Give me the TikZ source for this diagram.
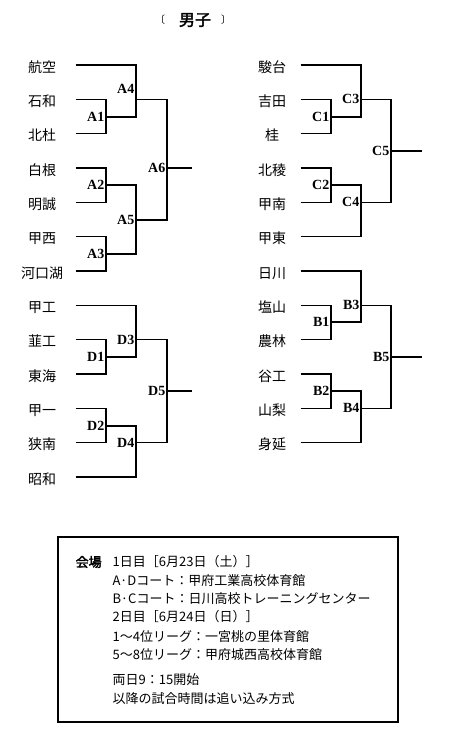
\documentclass[tikz,border=0pt]{standalone}
\usepackage{fontspec}
\setmainfont{Noto Sans CJK JP}
\newfontfamily\heavyjp{Noto Sans CJK JP}[FakeBold=2.5]
\newfontfamily\matchfont{Liberation Serif}
\usepackage{tikz}
\tikzset{team node/.style={minimum width=#1, inner sep=0pt, text height=16pt, text depth=2pt, font=\fontsize{14}{16}\selectfont},
  match label/.style={font=\matchfont\bfseries\fontsize{14}{16}\selectfont, inner sep=1pt},
  elbow/.style={to path={-| (\tikztotarget) \tikztonodes}},
  info line/.style={anchor=west, inner sep=0pt, font=\fontsize{13}{15}\selectfont},}

\begin{document}
\begin{tikzpicture}[x=1pt, y=-1pt, line width=1.3pt]
        \useasboundingbox (0,0) rectangle (450,747);
        % Title
        \node[font=\heavyjp\fontsize{16}{18}\selectfont] (title) at (195,20) {男子};
        \node[font=\fontsize{10}{12}\selectfont] (open) at (160,20) {〔};
        \node[font=\fontsize{10}{12}\selectfont] (close) at (226,20) {〕};
        % Nodes, left side
        \node[team node=66pt] (l1) at (42,65) {航空};
        \node[team node=66pt] (l2) at (42,99.3) {石和};
        \node[team node=66pt] (l3) at (42,133.7) {北杜};
        \node[team node=66pt] (l4) at (42,168) {白根};
        \node[team node=66pt] (l5) at (42,202.3) {明誠};
        \node[team node=66pt] (l6) at (42,236.7) {甲西};
        \node[team node=66pt] (l7) at (42,271) {河口湖};
        \node[team node=66pt] (l8) at (42,305.3) {甲工};
        \node[team node=66pt] (l9) at (42,339.7) {韮工};
        \node[team node=66pt] (l10) at (42,374) {東海};
        \node[team node=66pt] (l11) at (42,408.3) {甲一};
        \node[team node=66pt] (l12) at (42,442.7) {狭南};
        \node[team node=66pt] (l13) at (42,477) {昭和};
        % Nodes, right side
        \node[team node=56pt] (r1) at (272,65) {駿台};
        \node[team node=56pt] (r2) at (272,99.3) {吉田};
        \node[team node=56pt] (r3) at (272,133.7) {桂};
        \node[team node=56pt] (r4) at (272,168) {北稜};
        \node[team node=56pt] (r5) at (272,202.3) {甲南};
        \node[team node=56pt] (r6) at (272,236.7) {甲東};
        \node[team node=56pt] (r7) at (272,271) {日川};
        \node[team node=56pt] (r8) at (272,305.3) {塩山};
        \node[team node=56pt] (r9) at (272,339.7) {農林};
        \node[team node=56pt] (r10) at (272,374) {谷工};
        \node[team node=56pt] (r11) at (272,408.3) {山梨};
        \node[team node=56pt] (r12) at (272,442.7) {身延};
        % Matches
        \coordinate[label={[match label]left:A1}] (A1) at (106,117);
        \coordinate[label={[match label]left:A2}] (A2) at (106,185);
        \coordinate[label={[match label]left:A3}] (A3) at (106,254);
        \coordinate[label={[match label, yshift=4pt]above left:A4}] (A4) at (136,99.3);
        \coordinate[label={[match label]left:A5}] (A5) at (136,220);
        \coordinate[label={[match label]left:A6}] (A6) at (167,168);
        \coordinate (A6out) at (192,168);
        \coordinate[label={[match label]left:D1}] (D1) at (106,357);
        \coordinate[label={[match label]left:D2}] (D2) at (106,426);
        \coordinate[label={[match label]left:D3}] (D3) at (136,339.7);
        \coordinate[label={[match label]left:D4}] (D4) at (136,442.7);
        \coordinate[label={[match label]left:D5}] (D5) at (167,391);
        \coordinate (D5out) at (192,391);
        \coordinate[label={[match label]left:C1}] (C1) at (331,117);
        \coordinate[label={[match label]left:C2}] (C2) at (331,185);
        \coordinate[label={[match label]left:C3}] (C3) at (361,99.3);
        \coordinate[label={[match label]left:C4}] (C4) at (361,202.3);
        \coordinate[label={[match label]left:C5}] (C5) at (391,151);
        \coordinate (C5out) at (422,151);
        \coordinate[label={[match label]left:B1}] (B1) at (331,322);
        \coordinate[label={[match label]left:B2}] (B2) at (331,391);
        \coordinate[label={[match label]left:B3}] (B3) at (361,305.3);
        \coordinate[label={[match label]left:B4}] (B4) at (361,408.3);
        \coordinate[label={[match label]left:B5}] (B5) at (391,357);
        \coordinate (B5out) at (422,357);
        % Paths
        \path[draw]
        (l2) edge[elbow] (A1)
        (l3) edge[elbow] (A1)
        (l4) edge[elbow] (A2)
        (l5) edge[elbow] (A2)
        (l6) edge[elbow] (A3)
        (l7) edge[elbow] (A3)
        (l1) edge[elbow] (A4)
        (A1) edge[elbow] (A4)
        (A2) edge[elbow] (A5)
        (A3) edge[elbow] (A5)
        (A4) edge[elbow] (A6)
        (A5) edge[elbow] (A6)
        (A6) edge (A6out)
        (l9) edge[elbow] (D1)
        (l10) edge[elbow] (D1)
        (l11) edge[elbow] (D2)
        (l12) edge[elbow] (D2)
        (l8) edge[elbow] (D3)
        (D1) edge[elbow] (D3)
        (D2) edge[elbow] (D4)
        (l13) edge[elbow] (D4)
        (D3) edge[elbow] (D5)
        (D4) edge[elbow] (D5)
        (D5) edge (D5out)
        (r2) edge[elbow] (C1)
        (r3) edge[elbow] (C1)
        (r4) edge[elbow] (C2)
        (r5) edge[elbow] (C2)
        (r1) edge[elbow] (C3)
        (C1) edge[elbow] (C3)
        (C2) edge[elbow] (C4)
        (r6) edge[elbow] (C4)
        (C3) edge[elbow] (C5)
        (C4) edge[elbow] (C5)
        (C5) edge (C5out)
        (r8) edge[elbow] (B1)
        (r9) edge[elbow] (B1)
        (r10) edge[elbow] (B2)
        (r11) edge[elbow] (B2)
        (r7) edge[elbow] (B3)
        (B1) edge[elbow] (B3)
        (B2) edge[elbow] (B4)
        (r12) edge[elbow] (B4)
        (B3) edge[elbow] (B5)
        (B4) edge[elbow] (B5)
        (B5) edge (B5out);
        % Venue box
        \node[draw, minimum width=340pt, minimum height=185pt, inner sep=0pt] (box) at (228,629.5) {};
        \node[info line, font=\heavyjp\fontsize{13}{15}\selectfont] (venue) at (75,562) {会場};
        \node[info line] (day1) at (112,562) {1日目［6月23日（土）］};
        \node[info line] (courtAD) at (112,581) {A·Dコート：甲府工業高校体育館};
        \node[info line] (courtBC) at (112,599) {B·Cコート：日川高校トレーニングセンター};
        \node[info line] (day2) at (112,617) {2日目［6月24日（日）］};
        \node[info line] (upper) at (112,637) {1～4位リーグ：一宮桃の里体育館};
        \node[info line] (lower) at (112,655) {5～8位リーグ：甲府城西高校体育館};
        \node[info line] (start) at (112,680) {両日9：15開始};
        \node[info line] (later) at (112,699) {以降の試合時間は追い込み方式};
\end{tikzpicture}
\end{document}
